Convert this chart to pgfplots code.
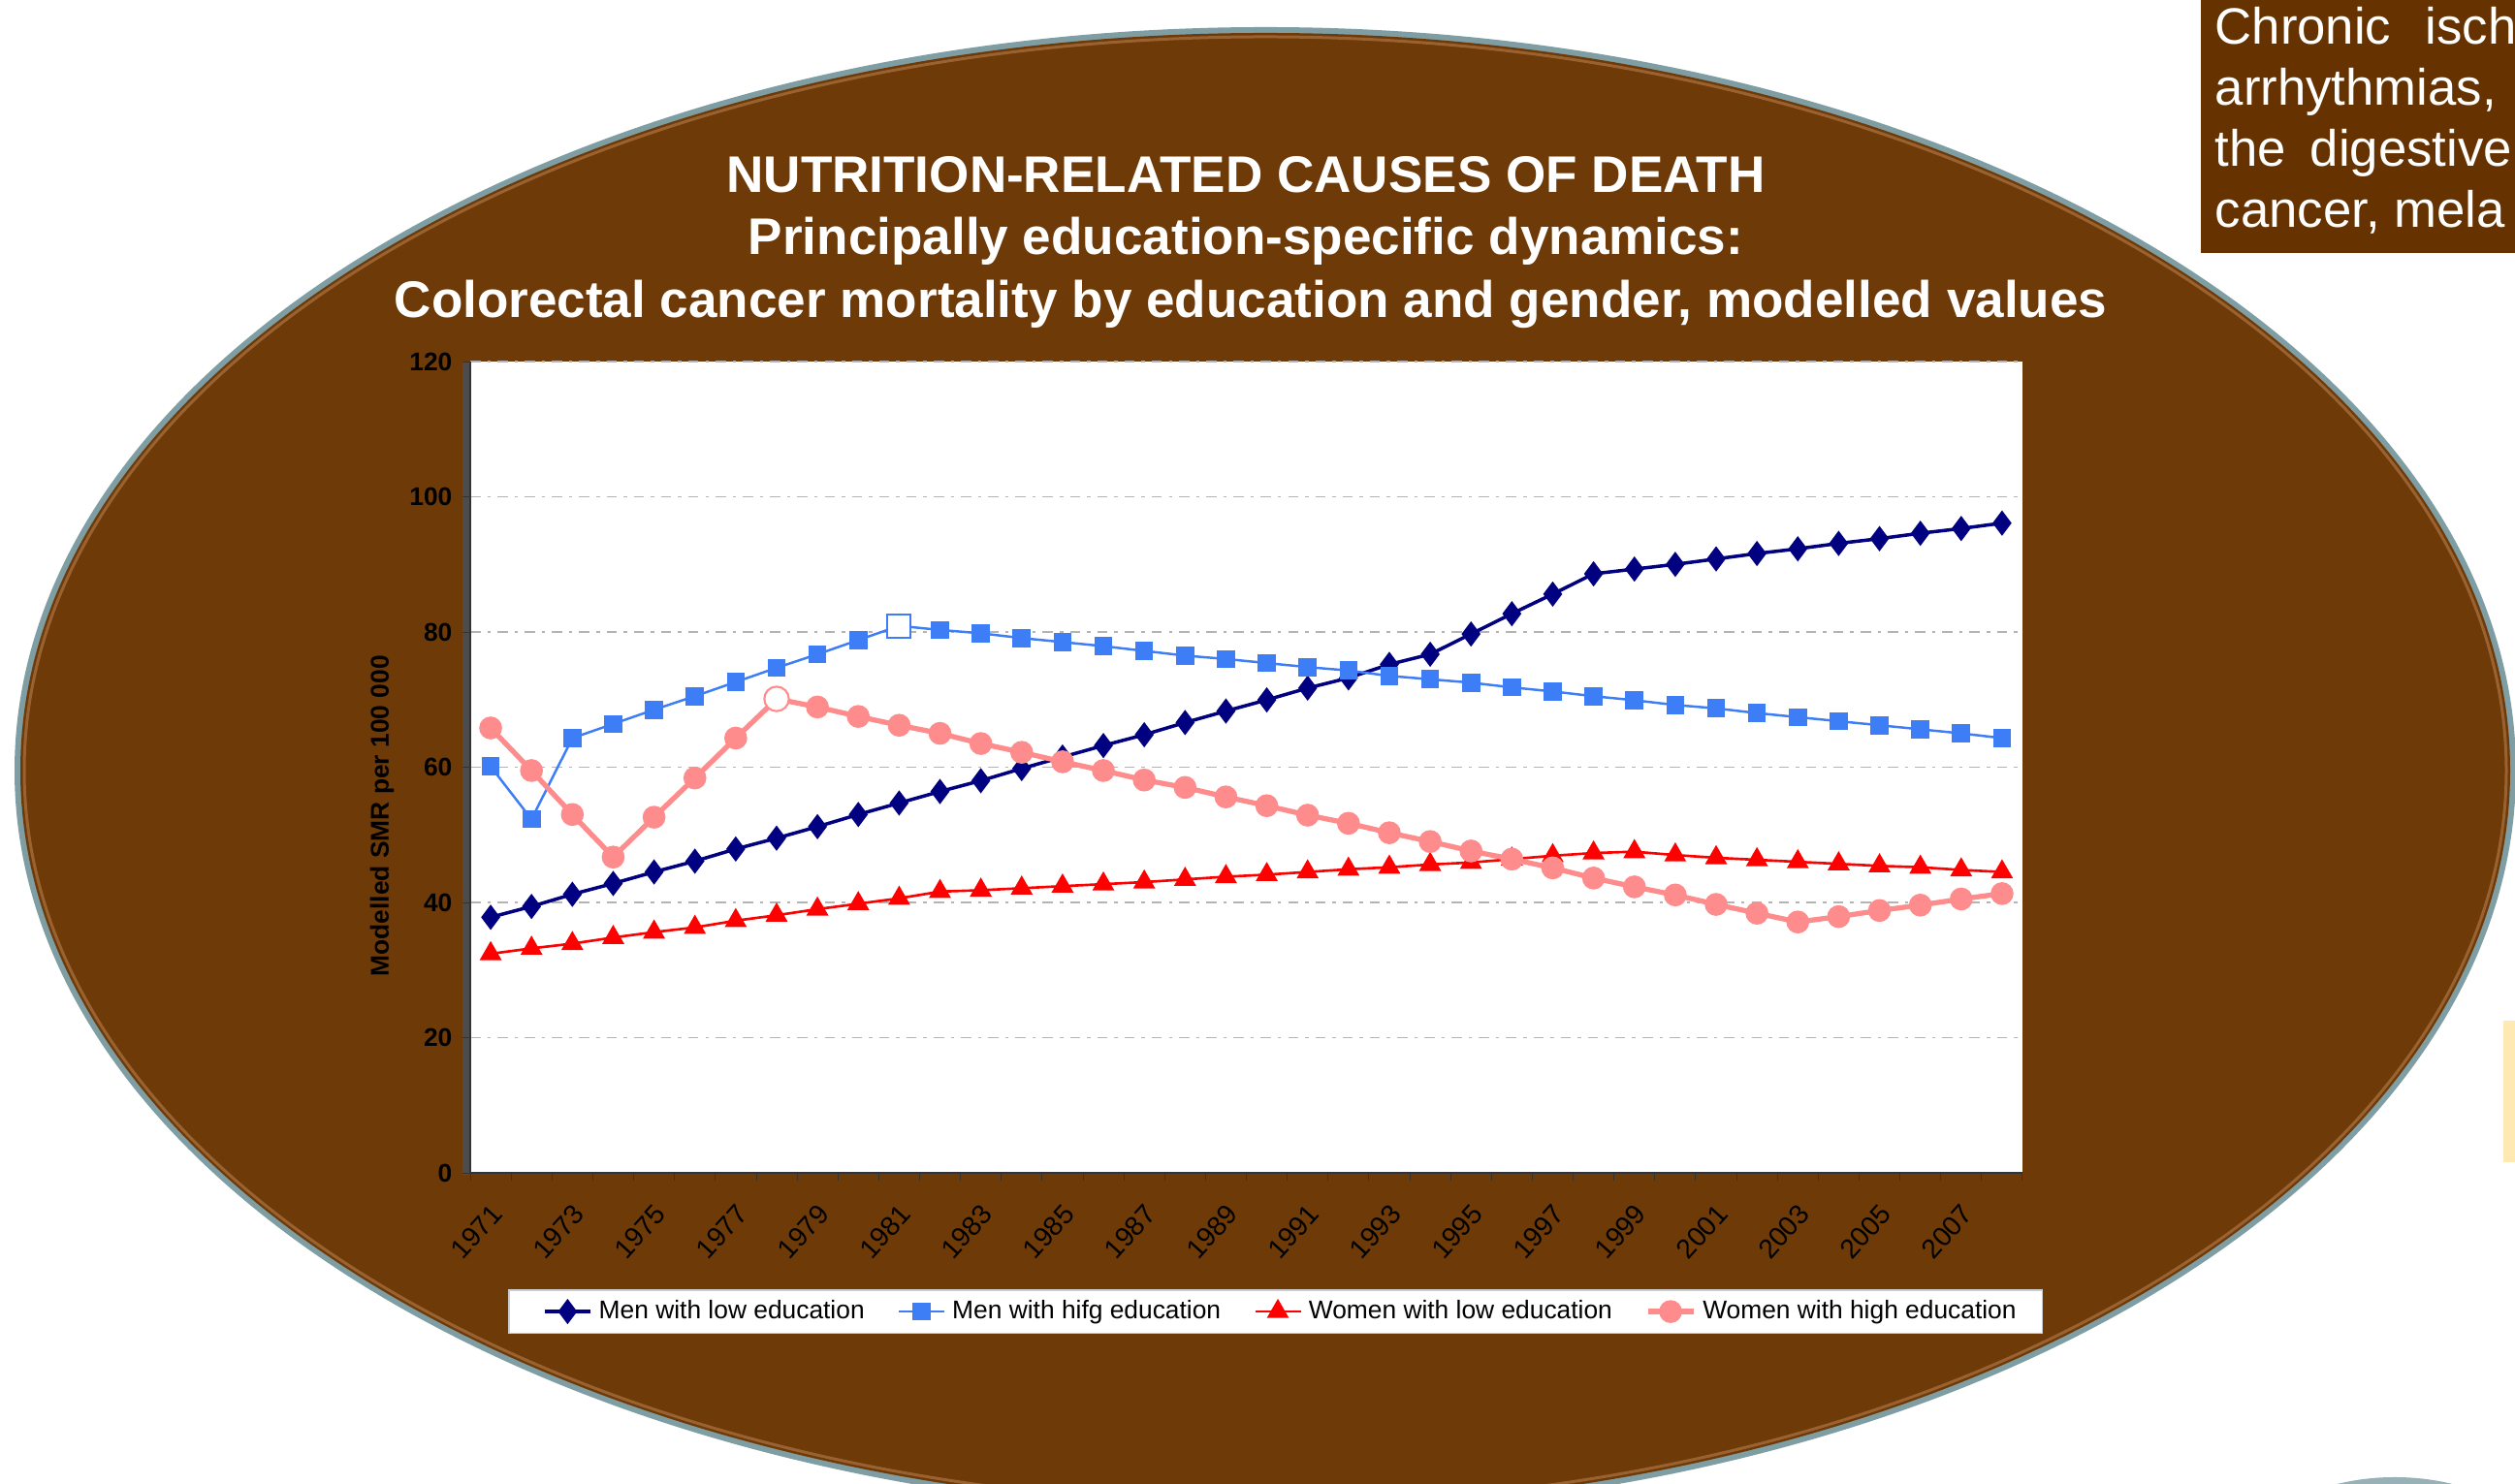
\documentclass[border=0pt]{standalone}
\usepackage{fontspec}
\setmainfont{Liberation Sans}
\usepackage{pgfplots}
\pgfplotsset{compat=1.18}
\definecolor{bgbrown}{HTML}{6E3A07}
\definecolor{boxbrown}{HTML}{663300}
\definecolor{rimbrown}{HTML}{9A6230}
\definecolor{edgeteal}{HTML}{7E9EA4}
\definecolor{mlow}{HTML}{000080}
\definecolor{mhigh}{HTML}{3D7DF5}
\definecolor{wlow}{HTML}{FF0000}
\definecolor{whigh}{HTML}{FF8C8C}
\definecolor{gridgray}{HTML}{B4B4B4}
\definecolor{paleyellow}{HTML}{FFE9B3}

\pgfplotstableread{
year ml mh wl wh
1971 37.8 60.1 32.4 65.8
1972 39.4 52.3 33.2 59.5
1973 41.2 64.3 33.9 53.0
1974 42.8 66.4 34.8 46.7
1975 44.5 68.5 35.6 52.6
1976 46.1 70.5 36.3 58.4
1977 47.9 72.6 37.3 64.3
1978 49.5 74.7 38.1 70.1
1979 51.2 76.7 39.0 68.9
1980 53.0 78.8 39.8 67.5
1981 54.7 80.9 40.6 66.2
1982 56.4 80.3 41.6 65.0
1983 58.0 79.8 41.8 63.5
1984 59.8 79.1 42.1 62.2
1985 61.5 78.5 42.4 60.8
1986 63.2 77.9 42.7 59.5
1987 64.8 77.2 43.0 58.1
1988 66.6 76.5 43.4 57.0
1989 68.3 76.0 43.8 55.6
1990 69.95 75.4 44.1 54.3
1991 71.7 74.8 44.5 52.9
1992 73.2 74.3 44.9 51.7
1993 75.2 73.5 45.2 50.3
1994 76.7 73.0 45.6 49.0
1995 79.7 72.5 45.9 47.6
1996 82.7 71.8 46.4 46.4
1997 85.6 71.2 46.9 45.1
1998 88.6 70.5 47.3 43.6
1999 89.3 69.9 47.5 42.3
2000 90.0 69.2 47.0 41.1
2001 90.8 68.7 46.6 39.7
2002 91.6 68.0 46.3 38.4
2003 92.3 67.4 46.0 37.1
2004 93.1 66.8 45.7 37.9
2005 93.8 66.2 45.4 38.8
2006 94.6 65.6 45.2 39.6
2007 95.3 65.0 44.8 40.5
2008 96.1 64.3 44.5 41.3
}\datatable

\begin{document}
\begin{tikzpicture}
\clip (0,0) rectangle (25.94,15.31);
\fill[white] (0,0) rectangle (25.94,15.31);
% slide background ellipse
\fill[edgeteal] (13.05,7.36) ellipse [x radius=12.90, y radius=7.67];
\fill[bgbrown] (13.05,7.36) ellipse [x radius=12.84, y radius=7.61];
\draw[rimbrown, line width=0.03cm] (13.05,7.36) ellipse [x radius=12.80, y radius=7.57];
% top right text box
\fill[boxbrown] (22.70,12.70) rectangle (25.94,15.31);
\begin{scope}[every node/.style={white, font=\fontsize{15}{18}\selectfont, inner sep=0pt, anchor=base west}]
\node at (22.84,14.85) {Chronic};
\node at (25.01,14.85) {isch};
\node at (22.84,14.22) {arrhythmias,};
\node at (22.84,13.59) {the};
\node at (23.82,13.59) {digestive};
\node at (22.84,12.96) {cancer, mela};
\end{scope}
% small yellow strip and bottom-right shape
\fill[paleyellow] (25.82,3.32) rectangle (25.94,4.78);
\fill[edgeteal!80!white] (24.70,-0.98) ellipse [x radius=1.65, y radius=1.05];
% title
\begin{scope}[every node/.style={white, font=\bfseries\fontsize{15.1}{18}\selectfont, inner sep=0pt, anchor=base}]
\node at (12.85,13.32) {NUTRITION-RELATED CAUSES OF DEATH};
\node at (12.85,12.68) {Principally education-specific dynamics:};
\node at (12.90,12.03) {Colorectal cancer mortality by education and gender, modelled values};
\end{scope}
% plot area shadow
\fill[black!70] (4.77,3.19) rectangle (4.86,11.58);
\begin{axis}[
  at={(4.85cm,3.21cm)}, anchor=south west,
  scale only axis, width=16.01cm, height=8.37cm,
  xmin=1970.5, xmax=2008.5, ymin=0, ymax=120,
  axis x line*=bottom, axis y line*=left,
  axis line style={black!80, line width=0.5pt},
  axis background/.style={fill=white},
  ytick={0,20,...,120},
  xtick={1971,1973,...,2007},
  minor xtick={1970.5,1971.5,...,2008.5},
  major x tick style={draw=none},
  minor x tick style={black!80},
  y tick style={black!80},
  tick align=outside,
  major tick length=0.08cm, minor tick length=0.08cm,
  ymajorgrids,
  major grid style={gridgray, dash pattern=on 3pt off 2pt on 1pt off 2pt, line width=0.5pt},
  /pgf/number format/assume math mode=true,
  yticklabel style={font=\bfseries\fontsize{7.5}{9}\selectfont, black, xshift=0.5pt},
  xticklabel style={font=\fontsize{8}{9}\selectfont, black, rotate=48, anchor=east, xshift=-1.5pt, yshift=-7pt},
  xticklabel={\pgfmathprintnumber[1000 sep={}]{\tick}},
  ylabel={Modelled SMR per 100 000},
  ylabel style={at={(axis description cs:-0.0568,0.44)}, anchor=center, font=\bfseries\fontsize{7.5}{9}\selectfont, black},
  legend columns=4,
  legend style={at={(axis description cs:0.519,-0.171)}, anchor=center,
    fill=white, draw=gray!40, font=\fontsize{7.5}{9}\selectfont,
    /tikz/every even column/.append style={column sep=0.12cm},
    inner xsep=0.2cm, inner ysep=0.03cm},
  legend image code/.code={\path (0cm,0cm); \draw[mark repeat=2, mark phase=2] plot coordinates {(0.15cm,0cm) (0.385cm,0cm) (0.62cm,0cm)};},
  clip=false,
]
\addplot[mlow, line width=1pt, mark=diamond*, mark size=2.9pt, mark options={solid, fill=mlow}] table[x=year, y=ml] {\datatable};
\addlegendentry{Men with low education}
\addplot[mhigh, line width=0.7pt, mark=square*, mark size=2.3pt, mark options={solid, fill=mhigh}] table[x=year, y=mh] {\datatable};
\addlegendentry{Men with hifg education}
\addplot[wlow, line width=0.75pt, mark=triangle*, mark size=3pt, mark options={solid, fill=wlow}] table[x=year, y=wl] {\datatable};
\addlegendentry{Women with low education}
\addplot[whigh, line width=1.5pt, mark=*, mark size=2.6pt, mark options={solid, fill=whigh}] table[x=year, y=wh] {\datatable};
\addlegendentry{Women with high education}
\addplot[forget plot, only marks, mark=square*, mark size=3.4pt, mark options={draw=mhigh, fill=white, line width=0.6pt}] coordinates {(1981,80.9)};
\addplot[forget plot, only marks, mark=*, mark size=3.6pt, mark options={draw=whigh, fill=white, line width=0.6pt}] coordinates {(1978,70.1)};
\end{axis}
\end{tikzpicture}
\end{document}
